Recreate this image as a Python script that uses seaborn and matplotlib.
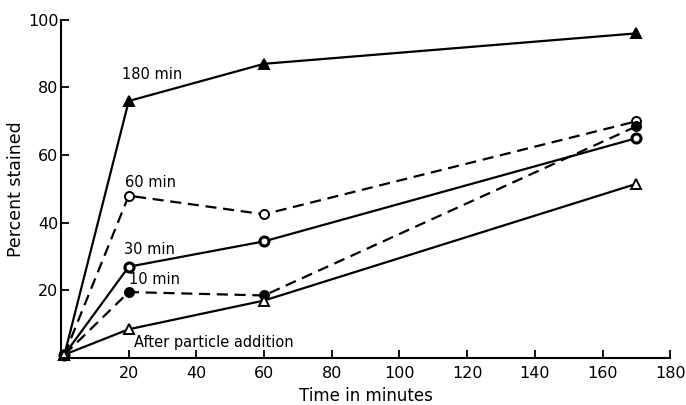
import matplotlib
matplotlib.use("Agg")
import matplotlib.pyplot as plt
import seaborn as sns
import pandas as pd

times = [1, 20, 60, 170]
series_names = ["180 min", "60 min", "30 min", "10 min", "After particle addition"]
v180 = [1, 76, 87, 96]
v60 = [1, 48, 42.5, 70]
v30 = [1, 27, 34.5, 65]
v10 = [1, 19.5, 18.5, 68.5]
vafter = [1, 8.5, 17, 51.5]
x_ticks = [20, 40, 60, 80, 100, 120, 140, 160, 180]
y_ticks = [20, 40, 60, 80, 100]

sns.set_style("ticks")
plt.rcParams['font.family'] = ['DejaVu Sans']
plt.rcParams.update({"text.color": "black", "axes.labelcolor": "black",
                     "xtick.color": "black", "ytick.color": "black",
                     "axes.edgecolor": "black"})

fig = plt.figure(figsize=(6.86, 4.05), dpi=100)
ax = fig.add_axes([0.089, 0.116, 0.888, 0.835])

styles = [
    (v180, "-", "^", "black", "black"),
    (v60, (0, (5, 3)), "o", "white", "black"),
    (v30, "-", "o", "white", "black"),
    (v10, (0, (5, 3)), "o", "black", "black"),
    (vafter, "-", "^", "white", "black"),
]
for name, (vals, ls, mk, mfc, mec) in zip(series_names, styles):
    df = pd.DataFrame({"t": times, "v": vals})
    sns.lineplot(data=df, x="t", y="v", ax=ax, color="black", linestyle=ls,
                 linewidth=1.6, marker=mk, markersize=6.5, markerfacecolor=mfc,
                 markeredgecolor=mec, markeredgewidth=1.4)

# 30 min marker is a thick-edged circle
ax.lines[2].set_markeredgewidth(2.2)

label_pos = {
    "180 min": (18, 81.5),
    "60 min": (19, 49.8),
    "30 min": (18.5, 30),
    "10 min": (20, 21),
    "After particle addition": (21.5, 2.5),
}
for name in series_names:
    x, y = label_pos[name]
    ax.text(x, y, name, fontsize=10.5, ha="left", va="bottom", color="black")

ax.set_xlim(0, 180)
ax.set_ylim(0, 100)
ax.set_xticks(x_ticks)
ax.set_yticks(y_ticks)
ax.tick_params(axis="x", direction="in", length=6, width=1.3, labelsize=11.5, pad=6)
ax.tick_params(axis="y", direction="in", length=6, width=1.3, labelsize=11.5, pad=2)
ax.set_xlabel("Time in minutes", fontsize=12)
ax.set_ylabel("Percent stained", fontsize=12.5, labelpad=2)
sns.despine(ax=ax)
for s in ["left", "bottom"]:
    ax.spines[s].set_linewidth(1.5)
for ln in ax.lines:
    ln.set_clip_on(False)

fig.savefig("out.png", dpi=100)
